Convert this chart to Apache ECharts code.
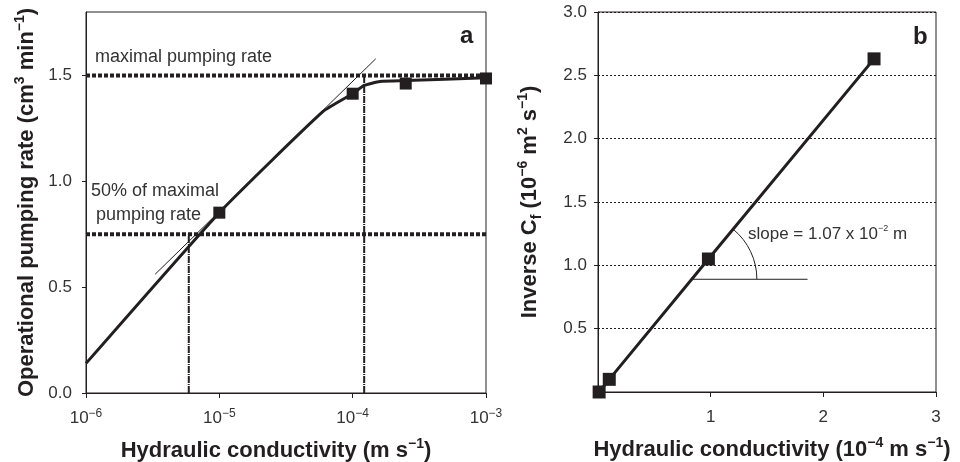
<!DOCTYPE html>
<html>
<head>
<meta charset="utf-8">
<script src="https://cdn.jsdelivr.net/npm/echarts@6/dist/echarts.min.js"></script>
<style>
  html, body { margin: 0; padding: 0; background: #fff; }
  #main { width: 960px; height: 462px; }
</style>
</head>
<body>
<div id="main"></div>
<script>
// panel a: operational pumping rate vs hydraulic conductivity (log axis)
const kMin = 1e-6;
const kMax = 1e-3;
const measuredK = [1e-5, 1e-4, 2.5e-4, 1e-3];
const measuredRate = [0.852, 1.414, 1.462, 1.486];
const curveK = [1e-6, 1e-5, 6e-5, 1e-4, 1.22e-4, 1.6e-4, 2.5e-4, 1e-3];
const curveRate = [0.14, 0.852, 1.33, 1.414, 1.453, 1.472, 1.476, 1.489];
const tangentK = [3.3e-6, 1.49e-4];
const tangentRate = [0.561, 1.579];
const maxRate = 1.5;
const halfRate = 0.75;
const kAtHalf = 5.9e-6;
const kAtMax = 1.22e-4;

// panel b: inverse Cf vs hydraulic conductivity (linear)
const condB = [0.01, 0.1, 0.98, 2.45];
const inverseCf = [0.0, 0.1, 1.05, 2.63];
const slopeBaseX = [0.836, 1.86];
const slopeBaseY = 0.89;
const slopeArcX = 1.41; // where the arc meets the base line

const ink = "#231f20";
const font = "Liberation Sans";

const pairs = (xs, ys) => xs.map((x, i) => [x, ys[i]]);

const titleRich = {
  t: { fontSize: 22, fontWeight: "bold", fontFamily: font, color: ink, lineHeight: 28 },
  s: { fontSize: 14, fontWeight: "bold", fontFamily: font, color: ink, lineHeight: 16, verticalAlign: "top" },
  f: { fontSize: 14, fontWeight: "bold", fontFamily: font, color: ink, lineHeight: 16, verticalAlign: "bottom" },
};
const labelRich = {
  b: { fontSize: 17, fontFamily: font, color: "#333", lineHeight: 20 },
  s: { fontSize: 12, fontFamily: font, color: "#333", lineHeight: 12, verticalAlign: "top" },
};

const chart = echarts.init(document.getElementById("main"));

chart.setOption({
  animation: false,
  grid: [
    { left: 86, right: 474, top: 12, bottom: 69, show: true, borderColor: ink, borderWidth: 1, outerBoundsMode: "none" },
    { left: 598, right: 24, top: 12, bottom: 70, show: true, borderColor: ink, borderWidth: 1, outerBoundsMode: "none" },
  ],
  xAxis: [
    {
      gridIndex: 0,
      type: "log",
      logBase: 10,
      min: kMin,
      max: kMax,
      axisLine: { lineStyle: { color: ink, width: 1 } },
      axisTick: { length: 5, lineStyle: { color: ink } },
      splitLine: { show: false },
      minorTick: { show: false },
      axisLabel: {
        margin: 15,
        formatter: (v) => "{b|10}{s|−" + Math.round(-Math.log10(v)) + "}",
        rich: labelRich,
      },
      name: "{t|Hydraulic conductivity (m s}{s|−1}{t|)}",
      nameLocation: "middle",
      nameGap: 44,
      nameTextStyle: { rich: titleRich, padding: [0, 20, 0, 0] },
    },
    {
      gridIndex: 1,
      type: "value",
      min: 0,
      max: 3,
      interval: 1,
      axisLine: { lineStyle: { color: ink, width: 1 } },
      axisTick: { length: 5, lineStyle: { color: ink } },
      splitLine: { show: false },
      axisLabel: {
        margin: 15,
        formatter: (v) => (v === 0 ? "" : "{b|" + v + "}"),
        rich: labelRich,
      },
      name: "{t|Hydraulic conductivity (10}{s|−4}{t| m s}{s|−1}{t|)}",
      nameLocation: "middle",
      nameGap: 44,
      nameTextStyle: { rich: titleRich, padding: [0, 0, 0, 10] },
    },
  ],
  yAxis: [
    {
      gridIndex: 0,
      type: "value",
      min: 0,
      max: 1.8,
      interval: 0.5,
      axisLine: { show: true, lineStyle: { color: ink, width: 1 } },
      axisTick: { show: true, length: 4, lineStyle: { color: ink } },
      splitLine: { show: false },
      axisLabel: {
        margin: 14,
        showMaxLabel: false,
        formatter: (v) => "{b|" + v.toFixed(1) + "}",
        rich: labelRich,
      },
      name: "{t|Operational pumping rate (cm}{s|3}{t| min}{s|−1}{t|)}",
      nameLocation: "middle",
      nameRotate: 90,
      nameGap: 45,
      nameTextStyle: { rich: titleRich },
    },
    {
      gridIndex: 1,
      type: "value",
      min: 0,
      max: 3,
      interval: 0.5,
      axisLine: { show: true, lineStyle: { color: ink, width: 1 } },
      axisTick: { show: true, length: 4, lineStyle: { color: ink } },
      splitLine: { show: true, lineStyle: { color: ink, width: 1, type: [2, 2] } },
      axisLabel: {
        margin: 11,
        formatter: (v) => (v === 0 ? "" : "{b|" + v.toFixed(1) + "}"),
        rich: labelRich,
      },
      name: "{t|Inverse C}{f|f}{t| (10}{s|−6}{t| m}{s|2}{t| s}{s|−1}{t|)}",
      nameLocation: "middle",
      nameRotate: 90,
      nameGap: 54,
      nameTextStyle: { rich: titleRich },
    },
  ],
  series: [
    // reference levels in panel a
    {
      type: "line", xAxisIndex: 0, yAxisIndex: 0, symbol: "none", silent: true,
      data: [[kMin, maxRate], [kMax, maxRate]],
      lineStyle: { color: ink, width: 4, type: [4, 2] },
    },
    {
      type: "line", xAxisIndex: 0, yAxisIndex: 0, symbol: "none", silent: true,
      data: [[kMin, halfRate], [kMax, halfRate]],
      lineStyle: { color: ink, width: 4, type: [4, 2] },
    },
    {
      type: "line", xAxisIndex: 0, yAxisIndex: 0, symbol: "none", silent: true,
      data: [[kAtHalf, 0], [kAtHalf, halfRate]],
      lineStyle: { color: ink, width: 2, type: [7, 1, 1, 1] },
    },
    {
      type: "line", xAxisIndex: 0, yAxisIndex: 0, symbol: "none", silent: true,
      data: [[kAtMax, 0], [kAtMax, maxRate]],
      lineStyle: { color: ink, width: 2, type: [7, 1, 1, 1] },
    },
    // thin tangent
    {
      type: "line", xAxisIndex: 0, yAxisIndex: 0, symbol: "none", silent: true,
      data: pairs(tangentK, tangentRate),
      lineStyle: { color: ink, width: 1 },
    },
    // fitted curve
    {
      type: "line", xAxisIndex: 0, yAxisIndex: 0, symbol: "none", smooth: 0.15,
      data: pairs(curveK, curveRate),
      lineStyle: { color: ink, width: 3 },
    },
    // measured points
    {
      type: "scatter", xAxisIndex: 0, yAxisIndex: 0, symbol: "rect", symbolSize: 12,
      data: pairs(measuredK, measuredRate),
      itemStyle: { color: ink, opacity: 1 },
      clip: false,
    },
    // panel b
    {
      type: "line", xAxisIndex: 1, yAxisIndex: 1, symbol: "rect", symbolSize: 13,
      showAllSymbol: true,
      data: pairs(condB, inverseCf),
      lineStyle: { color: ink, width: 3 },
      itemStyle: { color: ink, opacity: 1 },
      clip: false,
    },
    {
      type: "line", xAxisIndex: 1, yAxisIndex: 1, symbol: "none", silent: true,
      data: slopeBaseX.map((x) => [x, slopeBaseY]),
      lineStyle: { color: ink, width: 1 },
    },
  ],
});

// annotations: slope arc placed from data coordinates
const p0 = chart.convertToPixel({ gridIndex: 1 }, [condB[0], inverseCf[0]]);
const p3 = chart.convertToPixel({ gridIndex: 1 }, [condB[3], inverseCf[3]]);
const centre = chart.convertToPixel({ gridIndex: 1 }, [slopeBaseX[0], slopeBaseY]);
const arcEnd = chart.convertToPixel({ gridIndex: 1 }, [slopeArcX, slopeBaseY]);
const theta = Math.atan2(p0[1] - p3[1], p3[0] - p0[0]);
const radius = arcEnd[0] - centre[0];

const note = (x, y, text, size, bold) => ({
  type: "text",
  x: x,
  y: y,
  style: {
    text: text,
    fill: bold ? ink : "#333",
    font: (bold ? "bold " : "") + size + "px '" + font + "'",
    verticalAlign: "middle",
  },
});

chart.setOption({
  graphic: [
    note(95, 57, "maximal pumping rate", 18, false),
    note(91, 191, "50% of maximal", 18, false),
    note(96, 215, "pumping rate", 18, false),
    note(460, 36, "a", 24, true),
    note(913, 37, "b", 24, true),
    {
      type: "arc",
      shape: { cx: centre[0], cy: centre[1], r: radius, startAngle: -theta, endAngle: 0, clockwise: true },
      style: { stroke: ink, fill: null, lineWidth: 1 },
    },
    {
      type: "text",
      x: 748,
      y: 234,
      style: {
        text: "{b|slope = 1.07 x 10}{s|−2}{b| m}",
        verticalAlign: "middle",
        rich: {
          b: { fontSize: 17, fontFamily: font, fill: "#333", lineHeight: 20 },
          s: { fontSize: 9, fontFamily: font, fill: "#333", lineHeight: 10, verticalAlign: "top" },
        },
      },
    },
  ],
});
</script>
</body>
</html>
